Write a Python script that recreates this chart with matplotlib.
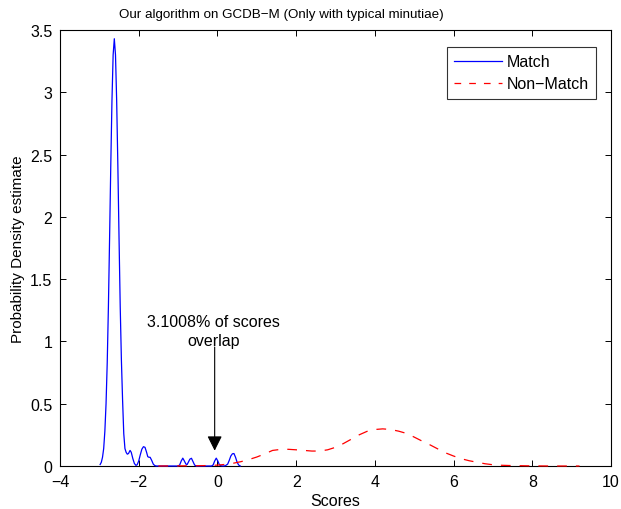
import matplotlib
matplotlib.use("Agg")
import matplotlib.pyplot as plt
from matplotlib.lines import Line2D

plt.rcParams['font.family'] = ['Liberation Sans', 'DejaVu Sans']
plt.rcParams['lines.scale_dashes'] = False

# ---- data ----
match_x = [-2.98, -2.95, -2.92, -2.89, -2.86, -2.83, -2.80, -2.77, -2.74, -2.71, -2.68,
           -2.65, -2.62, -2.59, -2.56, -2.53, -2.50, -2.47, -2.44, -2.41, -2.38,
           -2.35, -2.32, -2.29, -2.26,
           -2.22, -2.19, -2.15, -2.11, -2.07, -2.04,
           -2.00, -1.96, -1.92, -1.88, -1.84, -1.80, -1.77, -1.74, -1.71, -1.67, -1.63, -1.59, -1.55,
           -1.20, -1.00,
           -0.96, -0.92, -0.88, -0.84, -0.80, -0.77, -0.74, -0.70, -0.66, -0.62, -0.58, -0.54,
           -0.15, -0.11, -0.07, -0.03, 0.01, 0.05, 0.09, 0.14,
           0.20, 0.26, 0.30, 0.34, 0.38, 0.42, 0.46, 0.50, 0.54, 0.58]
match_y = [0.012, 0.03, 0.07, 0.14, 0.28, 0.50, 0.83, 1.28, 1.83, 2.41, 2.93,
           3.30, 3.43, 3.30, 2.93, 2.41, 1.83, 1.28, 0.85, 0.53, 0.26,
           0.14, 0.11, 0.095, 0.10,
           0.125, 0.11, 0.06, 0.02, 0.005, 0.01,
           0.04, 0.09, 0.135, 0.155, 0.15, 0.11, 0.075, 0.07, 0.07, 0.045, 0.015, 0.003, 0.0,
           0.0, 0.0,
           0.008, 0.04, 0.063, 0.04, 0.015, 0.012, 0.03, 0.055, 0.062, 0.035, 0.008, 0.0,
           0.0, 0.008, 0.04, 0.063, 0.04, 0.01, 0.002, 0.0,
           0.002, 0.015, 0.045, 0.08, 0.098, 0.10, 0.07, 0.03, 0.008, 0.0]

nonmatch_x = [-1.5, -1.0, -0.5, -0.2,
              0.0, 0.2, 0.4, 0.6, 0.8, 1.0, 1.2, 1.4, 1.6, 1.8, 2.0, 2.2, 2.4, 2.6, 2.8, 3.0,
              3.2, 3.4, 3.6, 3.8, 4.0, 4.2, 4.4, 4.6, 4.8, 5.0, 5.2, 5.4, 5.6, 5.8, 6.0,
              6.2, 6.4, 6.6, 6.8, 7.0, 7.2, 7.4, 7.6, 7.8, 8.0,
              8.5, 9.2]
nonmatch_y = [0.0, 0.001, 0.002, 0.004,
              0.007, 0.013, 0.022, 0.035, 0.052, 0.072, 0.097, 0.125, 0.133, 0.134, 0.13,
              0.125, 0.12, 0.12, 0.13, 0.15,
              0.18, 0.215, 0.25, 0.278, 0.293, 0.298, 0.293, 0.28, 0.262, 0.232, 0.2, 0.17,
              0.137, 0.105, 0.08,
              0.058, 0.042, 0.03, 0.018, 0.01, 0.006, 0.004, 0.003, 0.002, 0.001,
              0.0, 0.0]

series_labels = ['Match', 'Non\u2212Match']
x_ticks = [-4, -2, 0, 2, 4, 6, 8, 10]
y_ticks = [0, 0.5, 1, 1.5, 2, 2.5, 3, 3.5]
y_tick_labels = ['0', '0.5', '1', '1.5', '2', '2.5', '3', '3.5']
x_tick_labels = ['\u22124', '\u22122', '0', '2', '4', '6', '8', '10']
title_text = 'Our algorithm on GCDB\u2212M (Only with typical minutiae)'
annot_text = '3.1008% of scores\noverlap'
annot_tip = (-0.07, 0.123)
annot_tail = (-0.07, 0.955)
annot_text_pos = (-0.09, 1.083)

# ---- figure ----
W, H = 621, 510
fig = plt.figure(figsize=(W / 100, H / 100), dpi=100)
ax = fig.add_axes([60 / W, 43 / H, 551 / W, 436 / H])

ax.plot(match_x, match_y, color=(0, 0, 1), lw=0.9, zorder=3, clip_on=False)
ax.plot(nonmatch_x, nonmatch_y, color=(1, 0, 0), lw=0.9, dashes=(7.0, 6.5),
        zorder=3, clip_on=False)

ax.set_xlim(-4, 10)
ax.set_ylim(0, 3.5)
ax.set_xticks(x_ticks)
ax.set_xticklabels(x_tick_labels)
ax.set_yticks(y_ticks)
ax.set_yticklabels(y_tick_labels)
ax.tick_params(direction='in', length=4, width=0.7, top=True, right=True,
               labelsize=11.5, pad=5.5)
for s in ax.spines.values():
    s.set_linewidth(0.8)

ax.set_xlabel('Scores', fontsize=11.5, va='center')
ax.xaxis.set_label_coords(0.5, (467 - 501.7) / 436)
ax.set_ylabel('Probability Density estimate', fontsize=11, va='center')
ax.yaxis.set_label_coords((18 - 60) / 551, 0.5)

fig.text(281 / W, 1 - 15 / H, title_text, ha='center', va='center', fontsize=9.6)

ax.annotate('', xy=annot_tip, xytext=annot_tail,
            arrowprops=dict(arrowstyle='-|>,head_length=0.9,head_width=0.45',
                            color='black', lw=0.8, shrinkA=0, shrinkB=0))
ax.text(annot_text_pos[0], annot_text_pos[1], annot_text, ha='center', va='center',
        multialignment='center', fontsize=11.5, linespacing=1.35)

handles = [Line2D([], [], color=(0, 0, 1), lw=0.9),
           Line2D([], [], color=(1, 0, 0), lw=0.9, dashes=(4.8, 5.8))]
leg = ax.legend(handles, series_labels, loc='upper right',
                bbox_to_anchor=((596 - 60) / 551, (467 - 48) / 436),
                borderaxespad=0, fontsize=11.5, handlelength=3.0, handletextpad=0.3,
                labelspacing=0.45, borderpad=0.45, fancybox=False, frameon=True)
leg.get_frame().set_edgecolor('black')
leg.get_frame().set_linewidth(0.8)

fig.savefig('out.png', dpi=100)
